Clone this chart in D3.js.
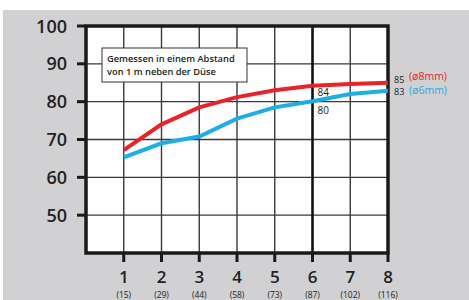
<!DOCTYPE html>
<html>
<head>
<meta charset="utf-8">
<script src="https://cdn.jsdelivr.net/npm/d3@7"></script>
<style>
    body { margin: 0; background: #fff; }
    svg { display: block; font-family: "Open Sans", "Noto Sans", sans-serif; }
</style>
</head>
<body>
<script>
    // data
    var stages = [1, 2, 3, 4, 5, 6, 7, 8];
    var stageSub = ["(15)", "(29)", "(44)", "(58)", "(73)", "(87)", "(102)", "(116)"];
    var yTicks = [50, 60, 70, 80, 90, 100];
    var red8mm = [67.2, 74, 78.5, 81.2, 83, 84.2, 84.7, 85];
    var blue6mm = [65.3, 69, 70.8, 75.5, 78.5, 80.1, 82, 82.9];

    var width = 469, height = 300;

    var svg = d3.select("body")
        .append("svg")
        .attr("width", width)
        .attr("height", height);

    // grey backdrop
    svg.append("rect")
        .attr("x", 3)
        .attr("y", 10)
        .attr("width", width - 3)
        .attr("height", height - 10)
        .attr("fill", "#d1d1d3");

    var x = d3.scaleLinear().domain([0, 8]).range([86, 388]);
    var y = d3.scaleLinear().domain([40, 100]).range([253, 26]);

    // white plot area
    svg.append("rect")
        .attr("x", x(0))
        .attr("y", y(100))
        .attr("width", x(8) - x(0))
        .attr("height", y(40) - y(100))
        .attr("fill", "#fff");

    // horizontal grid
    svg.selectAll(".hgrid")
        .data(yTicks.slice(0, -1))
        .enter()
        .append("line")
        .attr("x1", x(0)).attr("x2", x(8))
        .attr("y1", function(d){ return y(d); })
        .attr("y2", function(d){ return y(d); })
        .attr("stroke", "#3a3a3a")
        .attr("stroke-width", 1.4);

    // vertical grid (6 is drawn heavier)
    svg.selectAll(".vgrid")
        .data(stages.slice(0, -1))
        .enter()
        .append("line")
        .attr("x1", function(d){ return x(d); })
        .attr("x2", function(d){ return x(d); })
        .attr("y1", y(100)).attr("y2", y(40))
        .attr("stroke", function(d){ return d === 6 ? "#111" : "#3a3a3a"; })
        .attr("stroke-width", function(d){ return d === 6 ? 2.6 : 1.4; });

    // frame
    svg.append("rect")
        .attr("x", x(0))
        .attr("y", y(100))
        .attr("width", x(8) - x(0))
        .attr("height", y(40) - y(100))
        .attr("fill", "none")
        .attr("stroke", "#1a1a1a")
        .attr("stroke-width", 3.5);

    // y ticks + labels
    svg.selectAll(".ytick")
        .data(yTicks)
        .enter()
        .append("line")
        .attr("x1", x(0) - 9).attr("x2", x(0))
        .attr("y1", function(d){ return y(d); })
        .attr("y2", function(d){ return y(d); })
        .attr("stroke", "#1a1a1a")
        .attr("stroke-width", 3);

    svg.selectAll(".ylabel")
        .data(yTicks)
        .enter()
        .append("text")
        .attr("x", 67)
        .attr("y", function(d){ return y(d) + 6.5; })
        .attr("text-anchor", "end")
        .attr("font-size", 18)
        .attr("font-weight", 600)
        .attr("fill", "#222")
        .text(function(d){ return d; });

    // x ticks + labels
    svg.selectAll(".xtick")
        .data(stages)
        .enter()
        .append("line")
        .attr("x1", function(d){ return x(d); })
        .attr("x2", function(d){ return x(d); })
        .attr("y1", y(40)).attr("y2", y(40) + 9)
        .attr("stroke", "#1a1a1a")
        .attr("stroke-width", 3);

    svg.selectAll(".xlabel")
        .data(stages)
        .enter()
        .append("text")
        .attr("x", function(d){ return x(d); })
        .attr("y", 283)
        .attr("text-anchor", "middle")
        .attr("font-size", 17)
        .attr("font-weight", 600)
        .attr("fill", "#222")
        .text(function(d){ return d; });

    svg.selectAll(".xsub")
        .data(stages)
        .enter()
        .append("text")
        .attr("x", function(d){ return x(d); })
        .attr("y", 298)
        .attr("text-anchor", "middle")
        .attr("font-size", 8.5)
        .attr("fill", "#222")
        .text(function(d, i){ return stageSub[i]; });

    // note box
    svg.append("rect")
        .attr("x", 102)
        .attr("y", 48)
        .attr("width", 145)
        .attr("height", 34)
        .attr("fill", "#fff")
        .attr("stroke", "#333")
        .attr("stroke-width", 1);

    svg.append("text")
        .attr("x", 107)
        .attr("y", 62)
        .attr("font-size", 9.3)
        .attr("font-weight", 600)
        .attr("fill", "#222")
        .text("Gemessen in einem Abstand");
    svg.append("text")
        .attr("x", 107)
        .attr("y", 75)
        .attr("font-size", 9.3)
        .attr("font-weight", 600)
        .attr("fill", "#222")
        .text("von 1 m neben der Düse");

    // lines
    var line = d3.line()
        .x(function(d, i){ return x(stages[i]); })
        .y(function(d){ return y(d); });

    svg.append("path")
        .datum(blue6mm)
        .attr("d", line)
        .attr("fill", "none")
        .attr("stroke", "#1eaee6")
        .attr("stroke-width", 4);

    svg.append("path")
        .datum(red8mm)
        .attr("d", line)
        .attr("fill", "none")
        .attr("stroke", "#e8232a")
        .attr("stroke-width", 4);

    // value labels at stage 6
    svg.append("text")
        .attr("x", x(6) + 5).attr("y", 96)
        .attr("font-size", 10).attr("fill", "#222")
        .text("84");
    svg.append("text")
        .attr("x", x(6) + 5).attr("y", 114)
        .attr("font-size", 10).attr("fill", "#222")
        .text("80");

    // end labels
    svg.append("text")
        .attr("x", 394).attr("y", 82.5)
        .attr("font-size", 9).attr("fill", "#222")
        .text("85");
    svg.append("text")
        .attr("x", 394).attr("y", 95)
        .attr("font-size", 9).attr("fill", "#222")
        .text("83");
    svg.append("text")
        .attr("x", 409).attr("y", 80)
        .attr("font-size", 10.5).attr("fill", "#e8232a")
        .text("(ø8mm)");
    svg.append("text")
        .attr("x", 409).attr("y", 94)
        .attr("font-size", 10.5).attr("fill", "#1eaee6")
        .text("(ø6mm)");
</script>
</body>
</html>
